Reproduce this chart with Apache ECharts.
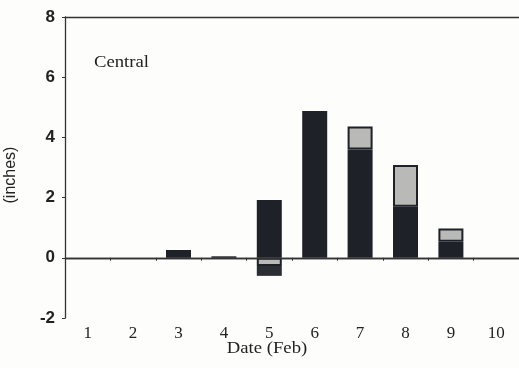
<!DOCTYPE html>
<html><head><meta charset="utf-8">
<script src="https://cdn.jsdelivr.net/npm/echarts@6/dist/echarts.min.js"></script>
<style>html,body{margin:0;padding:0;background:#fdfdfb;}#c{width:519px;height:368px;}</style>
</head><body><div id="c"></div>
<script>
var categories = ['1','2','3','4','5','6','7','8','9','10'];
var darkValues = [0, 0, 0.26, 0.05, 1.92, 4.88, 3.6, 1.7, 0.53, 0];
var lightValues = [0, 0, 0, 0, -0.27, 0, 0.76, 1.38, 0.44, 0];
var darkBelow = [0, 0, 0, 0, -0.33, 0, 0, 0, 0, 0];
var yTicks = [-2, 0, 2, 4, 6, 8];

function hideZero(arr) { return arr.map(function (v) { return v === 0 ? null : v; }); }

var chart = echarts.init(document.getElementById('c'), null, {renderer:'canvas'});
var dark = '#1e2127', light = '#b9b9b7';
chart.setOption({
  backgroundColor: '#fdfdfb',
  animation: false,
  grid: {left: 65, top: 17, width: 458, height: 301},
  xAxis: [{
    type: 'category', data: categories,
    axisLine: {lineStyle: {color: '#333', width: 1.3}},
    axisTick: {show: true, length: 3, lineStyle: {color: '#333'}},
    axisLabel: {fontFamily: 'Liberation Serif', fontSize: 17, color: '#222', margin: 7}
  }, {
    type: 'category', data: categories, position: 'top',
    axisLine: {lineStyle: {color: '#333', width: 1.3}},
    axisTick: {show: false}, axisLabel: {show: false}
  }],
  yAxis: {
    type: 'value', min: yTicks[0], max: yTicks[yTicks.length-1], interval: 2,
    splitLine: {show: false},
    axisLine: {show: true, lineStyle: {color: '#333', width: 1.3}},
    axisTick: {show: true, length: 3, lineStyle: {color: '#333'}},
    axisLabel: {fontFamily: 'Liberation Sans', fontWeight: 'bold', fontSize: 17, color: '#222', margin: 10}
  },
  series: [
    {type: 'bar', name: 'dark', stack: 's', data: hideZero(darkValues), barWidth: 25,
     itemStyle: {color: dark},
     markLine: {silent: true, symbol: 'none', label: {show: false}, lineStyle: {color: '#333', type: 'solid', width: 1.4}, data: [{yAxis: 0}]}},
    {type: 'bar', name: 'light', stack: 's', data: hideZero(lightValues), barWidth: 25,
     itemStyle: {color: light, borderColor: dark, borderWidth: 2}},
    {type: 'bar', name: 'darkBelow', stack: 's', data: hideZero(darkBelow), barWidth: 25,
     itemStyle: {color: '#2a2d33'}}
  ],
  graphic: [
    {type: 'text', x: 94, y: 63, scaleX: 1.1, style: {text: 'Central', font: '17px "Liberation Serif"', fill: '#222', verticalAlign: 'middle'}},
    {type: 'text', x: 267, y: 349, scaleX: 1.1, style: {text: 'Date (Feb)', font: '17px "Liberation Serif"', fill: '#222', align: 'center', verticalAlign: 'middle'}},
    {type: 'text', x: 11, y: 175, rotation: Math.PI/2, style: {text: '(inches)', font: '16px "Liberation Sans"', fill: '#222', align: 'center', verticalAlign: 'middle'}}
  ]
});
</script></body></html>
